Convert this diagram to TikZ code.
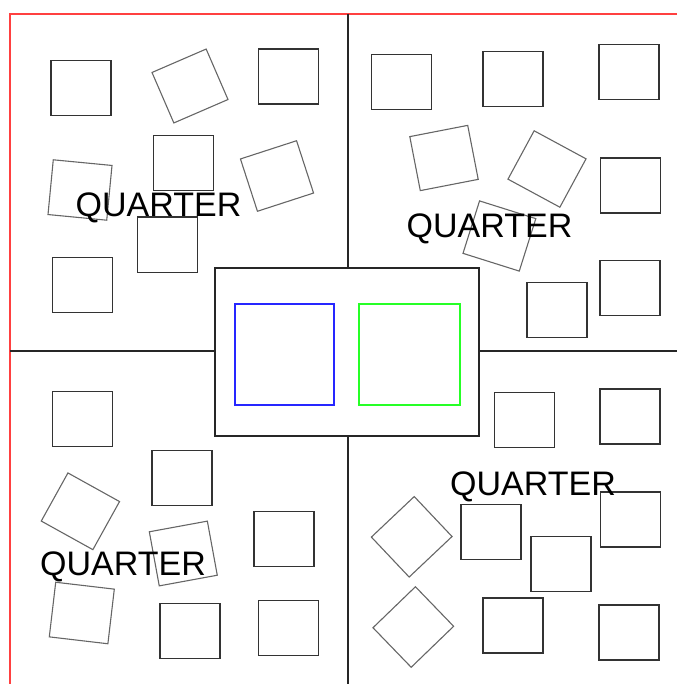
\documentclass[tikz,border=0pt]{standalone}
\usepackage{fontspec}
\setmainfont{Liberation Sans}
\usepackage{tikz}
\usetikzlibrary{positioning}

\begin{document}
\begin{tikzpicture}[x=1pt, y=-1pt,
    box/.style={draw=black!80, line width=1.4pt, minimum width=60pt, minimum height=55pt, inner sep=0pt},
    tilt/.style={draw=black!60, line width=1.1pt, minimum width=59pt, minimum height=55pt, inner sep=0pt, rotate=#1},
    label/.style={anchor=base west, inner sep=0pt, font=\fontsize{34}{40}\selectfont},
    divider/.style={draw=black!85, line width=1.3pt}]
  \useasboundingbox (0,0) rectangle (677,684);
  % frame and quarter lines
  \coordinate (frameTR) at (677,14);
  \coordinate (frameTL) at (10,14);
  \coordinate (frameBL) at (10,684);
  \draw[red!75, line width=1.4pt] (frameTR) -- (frameTL) -- (frameBL);
  \node[draw=black!85, line width=1.3pt, minimum width=264pt, minimum height=168pt, inner sep=0pt] (core) at (347,352) {};
  \node[draw=blue!85, line width=1.3pt, minimum width=99pt, minimum height=101pt, inner sep=0pt] (blueBox) at (284.5,354.5) {};
  \node[draw=green!85, line width=1.3pt, minimum width=101pt, minimum height=101pt, inner sep=0pt] (greenBox) at (409.5,354.5) {};
  \coordinate (vTop) at (348,14);
  \coordinate (vBot) at (348,684);
  \coordinate (hLeft) at (10,351);
  \coordinate (hRight) at (677,351);
  \draw[divider] (vTop) -- (vTop |- core.north);
  \draw[divider] (vBot |- core.south) -- (vBot);
  \draw[divider] (hLeft) -- (hLeft -| core.west);
  \draw[divider] (hRight -| core.east) -- (hRight);
  % top-left quarter
  \node[box] (tlA) at (81,88) {};
  \node[box] (tlB) at (288.5,76.7) {};
  \node[box] (tlC) at (183.3,163) {};
  \node[box] (tlD) at (167.7,244.7) {};
  \node[box] (tlE) at (82.3,285) {};
  \node[tilt=23.4] (tlF) at (190,86) {};
  \node[tilt=-5.5] (tlG) at (80,190) {};
  \node[tilt=18] (tlH) at (277,176) {};
  % top-right quarter
  \node[box] (trA) at (401.5,82) {};
  \node[box] (trB) at (513,79.3) {};
  \node[box] (trC) at (629,72.3) {};
  \node[box] (trD) at (630.5,185.5) {};
  \node[box] (trE) at (556.8,309.7) {};
  \node[box] (trF) at (629.8,287.7) {};
  \node[tilt=11] (trG) at (444,158) {};
  \node[tilt=-28.4] (trH) at (547,169) {};
  \node[tilt=-17.5] (trI) at (499.4,236) {};
  % bottom-left quarter
  \node[box] (blA) at (82.5,419) {};
  \node[box] (blB) at (181.8,478) {};
  \node[box] (blC) at (284,539) {};
  \node[box] (blD) at (190,631) {};
  \node[box] (blE) at (288.3,628) {};
  \node[tilt=-29] (blF) at (80.4,511.3) {};
  \node[tilt=10.4] (blG) at (183.3,553.5) {};
  \node[tilt=-6.7] (blH) at (81.8,613) {};
  % bottom-right quarter
  \node[box] (brA) at (524.7,419.8) {};
  \node[box] (brB) at (629.8,416.3) {};
  \node[box] (brC) at (490.8,532) {};
  \node[box] (brD) at (630.5,519.3) {};
  \node[box] (brE) at (560.8,564) {};
  \node[box] (brF) at (513,625.3) {};
  \node[box] (brG) at (629,632.3) {};
  \node[tilt=43.4] (brH) at (411.7,536.8) {};
  \node[tilt=44] (brI) at (413.3,627) {};
  % labels
  \node[label] (tlLabel) at (75.5,216.7) {QUARTER};
  \node[label] (trLabel) at (406.5,237.7) {QUARTER};
  \node[label] (blLabel) at (40,575) {QUARTER};
  \node[label] (brLabel) at (450,495) {QUARTER};
\end{tikzpicture}
\end{document}
